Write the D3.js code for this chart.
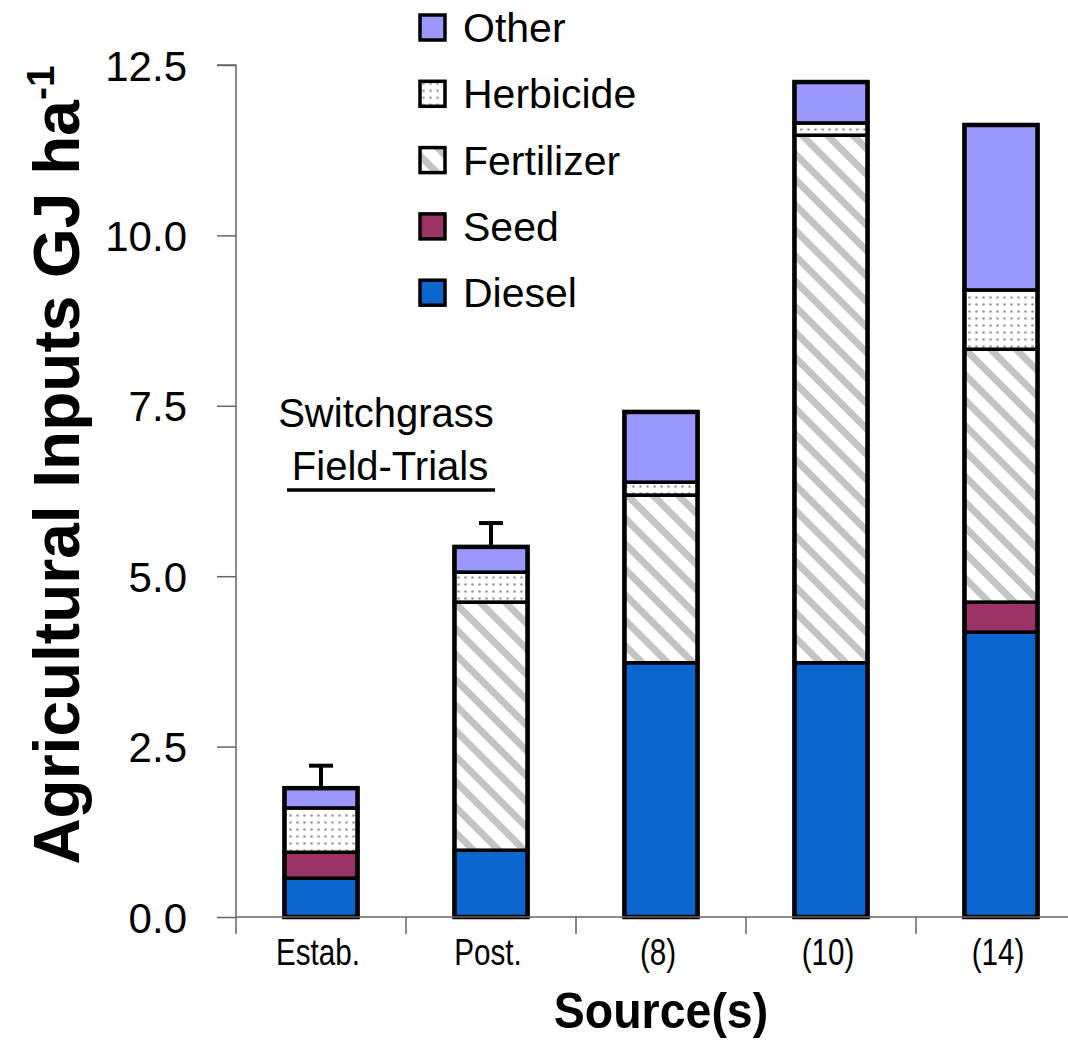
<!DOCTYPE html>
<html>
<head>
<meta charset="utf-8">
<script src="https://cdn.jsdelivr.net/npm/d3@7"></script>
<style>
  body{margin:0;background:#fff;}
  svg text{font-family:"Liberation Sans", Arial, sans-serif;fill:#000;}
</style>
</head>
<body>
<div class="canvas"></div>
<script>
// chart values (GJ per ha)
const categories=["Estab.","Post.","(8)","(10)","(14)"];
const seriesNames=["Diesel","Seed","Fertilizer","Herbicide","Other"];
const diesel=[0.57,0.98,3.73,3.73,4.18];
const seed=[0.38,0,0,0,0.44];
const fertilizer=[0,3.64,2.46,7.74,3.71];
const herbicide=[0.65,0.44,0.19,0.18,0.87];
const other=[0.29,0.37,1.03,0.60,2.42];
const errTop=[2.22,5.78,null,null,null];
const yTicks=[0,2.5,5,7.5,10,12.5];

const dims={width:1068,height:1040};
const plot={left:236,top:65,bottom:917,right:1086};

const svg=d3.select('.canvas')
.append('svg')
.attr('width',dims.width)
.attr('height',dims.height);

// patterns for fertilizer (stripes) and herbicide (dots)
const defs=svg.append('defs');
const stripe=defs.append('pattern')
.attr('id','stripes')
.attr('patternUnits','userSpaceOnUse')
.attr('width',18).attr('height',18)
.attr('patternTransform','rotate(-45)');
stripe.append('rect').attr('width',18).attr('height',18).attr('fill','#fff');
stripe.append('rect').attr('x',0).attr('width',7).attr('height',18).attr('fill','#c4c4c4');

const dots=defs.append('pattern')
.attr('id','dots')
.attr('patternUnits','userSpaceOnUse')
.attr('width',7).attr('height',7);
dots.append('rect').attr('width',7).attr('height',7).attr('fill','#fff');
dots.append('circle').attr('cx',3.5).attr('cy',3.5).attr('r',1.3).attr('fill','#999');

const fills={Diesel:'#0b66d0',Seed:'#9c3366',Fertilizer:'url(#stripes)',Herbicide:'url(#dots)',Other:'#9a99fb'};

const y=d3.scaleLinear().domain([0,12.5]).range([plot.bottom,plot.top]);
const x=d3.scaleBand().domain(categories).range([plot.left,plot.right]).paddingInner(0.57).paddingOuter(0.285);

const rows=categories.map((c,i)=>({cat:c,Diesel:diesel[i],Seed:seed[i],Fertilizer:fertilizer[i],Herbicide:herbicide[i],Other:other[i]}));
const stack=d3.stack().keys(seriesNames)(rows);
const total=d=>d.Diesel+d.Seed+d.Fertilizer+d.Herbicide+d.Other;

// error bars (drawn first so the bar outline covers the foot)
const ebars=rows.map((d,i)=>({cat:d.cat,top:errTop[i],total:total(d)})).filter(d=>d.top!=null);
const eg=svg.append('g');
eg.selectAll('line.v').data(ebars).enter().append('line')
.attr('x1',d=>x(d.cat)+x.bandwidth()/2).attr('x2',d=>x(d.cat)+x.bandwidth()/2)
.attr('y1',d=>y(d.total)).attr('y2',d=>y(d.top))
.attr('stroke','#000').attr('stroke-width',4);
eg.selectAll('line.c').data(ebars).enter().append('line')
.attr('x1',d=>x(d.cat)+x.bandwidth()/2-12).attr('x2',d=>x(d.cat)+x.bandwidth()/2+12)
.attr('y1',d=>y(d.top)).attr('y2',d=>y(d.top))
.attr('stroke','#000').attr('stroke-width',4);

// stacked segments
const layers=svg.append('g').selectAll('g')
.data(stack).enter().append('g')
.attr('fill',d=>fills[d.key]);

layers.selectAll('rect')
.data(d=>d.filter(s=>s[1]-s[0]>0))
.enter().append('rect')
.attr('x',d=>x(d.data.cat))
.attr('width',x.bandwidth())
.attr('y',d=>y(d[1]))
.attr('height',d=>y(d[0])-y(d[1]))
.attr('stroke','#000')
.attr('stroke-width',3.5);

// outer outline per bar
svg.append('g').selectAll('rect')
.data(rows).enter().append('rect')
.attr('x',d=>x(d.cat))
.attr('width',x.bandwidth())
.attr('y',d=>y(total(d)))
.attr('height',d=>plot.bottom-y(total(d)))
.attr('fill','none')
.attr('stroke','#000')
.attr('stroke-width',4.5);

// y axis
const yAxis=d3.axisLeft(y).tickValues(yTicks).tickFormat(d3.format('.1f')).tickSize(19).tickPadding(30);
const yg=svg.append('g').attr('transform',`translate(${plot.left},0)`).call(yAxis);
yg.select('.domain').attr('stroke','#666').attr('stroke-width',1.5).attr('d',`M-19,${plot.top}H0V${plot.bottom}`);
yg.selectAll('.tick line').attr('stroke','#666').attr('stroke-width',1.5);
yg.selectAll('.tick text').style('font-size','42px').attr('fill','#000').attr('dy','0.36em');

// x axis: ticks on the band boundaries
const xg=svg.append('g').attr('transform',`translate(0,${plot.bottom})`);
xg.append('line').attr('x1',plot.left).attr('x2',dims.width).attr('stroke','#666').attr('stroke-width',1.5);
const bounds=categories.map(c=>x(c)-x.step()*x.paddingInner()/2);
xg.selectAll('line.t').data(bounds).enter().append('line')
.attr('x1',d=>d).attr('x2',d=>d).attr('y1',0).attr('y2',17)
.attr('stroke','#666').attr('stroke-width',1.5);
xg.selectAll('text').data(categories).enter().append('text')
.attr('transform',d=>`translate(${x(d)+x.bandwidth()/2-3},48) scale(0.8,1)`)
.attr('text-anchor','middle')
.style('font-size','37px')
.text(d=>d);

// axis titles
svg.append('text')
.attr('transform','translate(661,1028) scale(0.93,1)')
.attr('text-anchor','middle')
.style('font-size','50px').style('font-weight','bold')
.text('Source(s)');

const yt=svg.append('text')
.attr('transform','translate(79,465) rotate(-90)')
.attr('text-anchor','middle')
.style('font-size','64px').style('font-weight','bold');
yt.append('tspan').text('Agricultural Inputs GJ ha');
yt.append('tspan').attr('dy',-25).style('font-size','39px').text('-1');

// legend
const legendItems=seriesNames.slice().reverse();
const lg=svg.append('g').attr('transform','translate(420,28)');
const li=lg.selectAll('g').data(legendItems).enter().append('g')
.attr('transform',(d,i)=>`translate(0,${i*66.3})`);
li.append('rect').attr('x',0).attr('y',-13).attr('width',25).attr('height',25)
.attr('fill',d=>fills[d]).attr('stroke','#000').attr('stroke-width',3.5);
li.append('text').attr('x',43).attr('y',14).style('font-size','41px').text(d=>d);

// annotation
svg.append('text').attr('x',386).attr('y',427).attr('text-anchor','middle').style('font-size','40px').text('Switchgrass');
svg.append('text').attr('x',390).attr('y',480).attr('text-anchor','middle').style('font-size','40px').text('Field-Trials');
svg.append('line').attr('x1',287).attr('x2',495).attr('y1',490).attr('y2',490).attr('stroke','#000').attr('stroke-width',3.5);
</script>
</body>
</html>
